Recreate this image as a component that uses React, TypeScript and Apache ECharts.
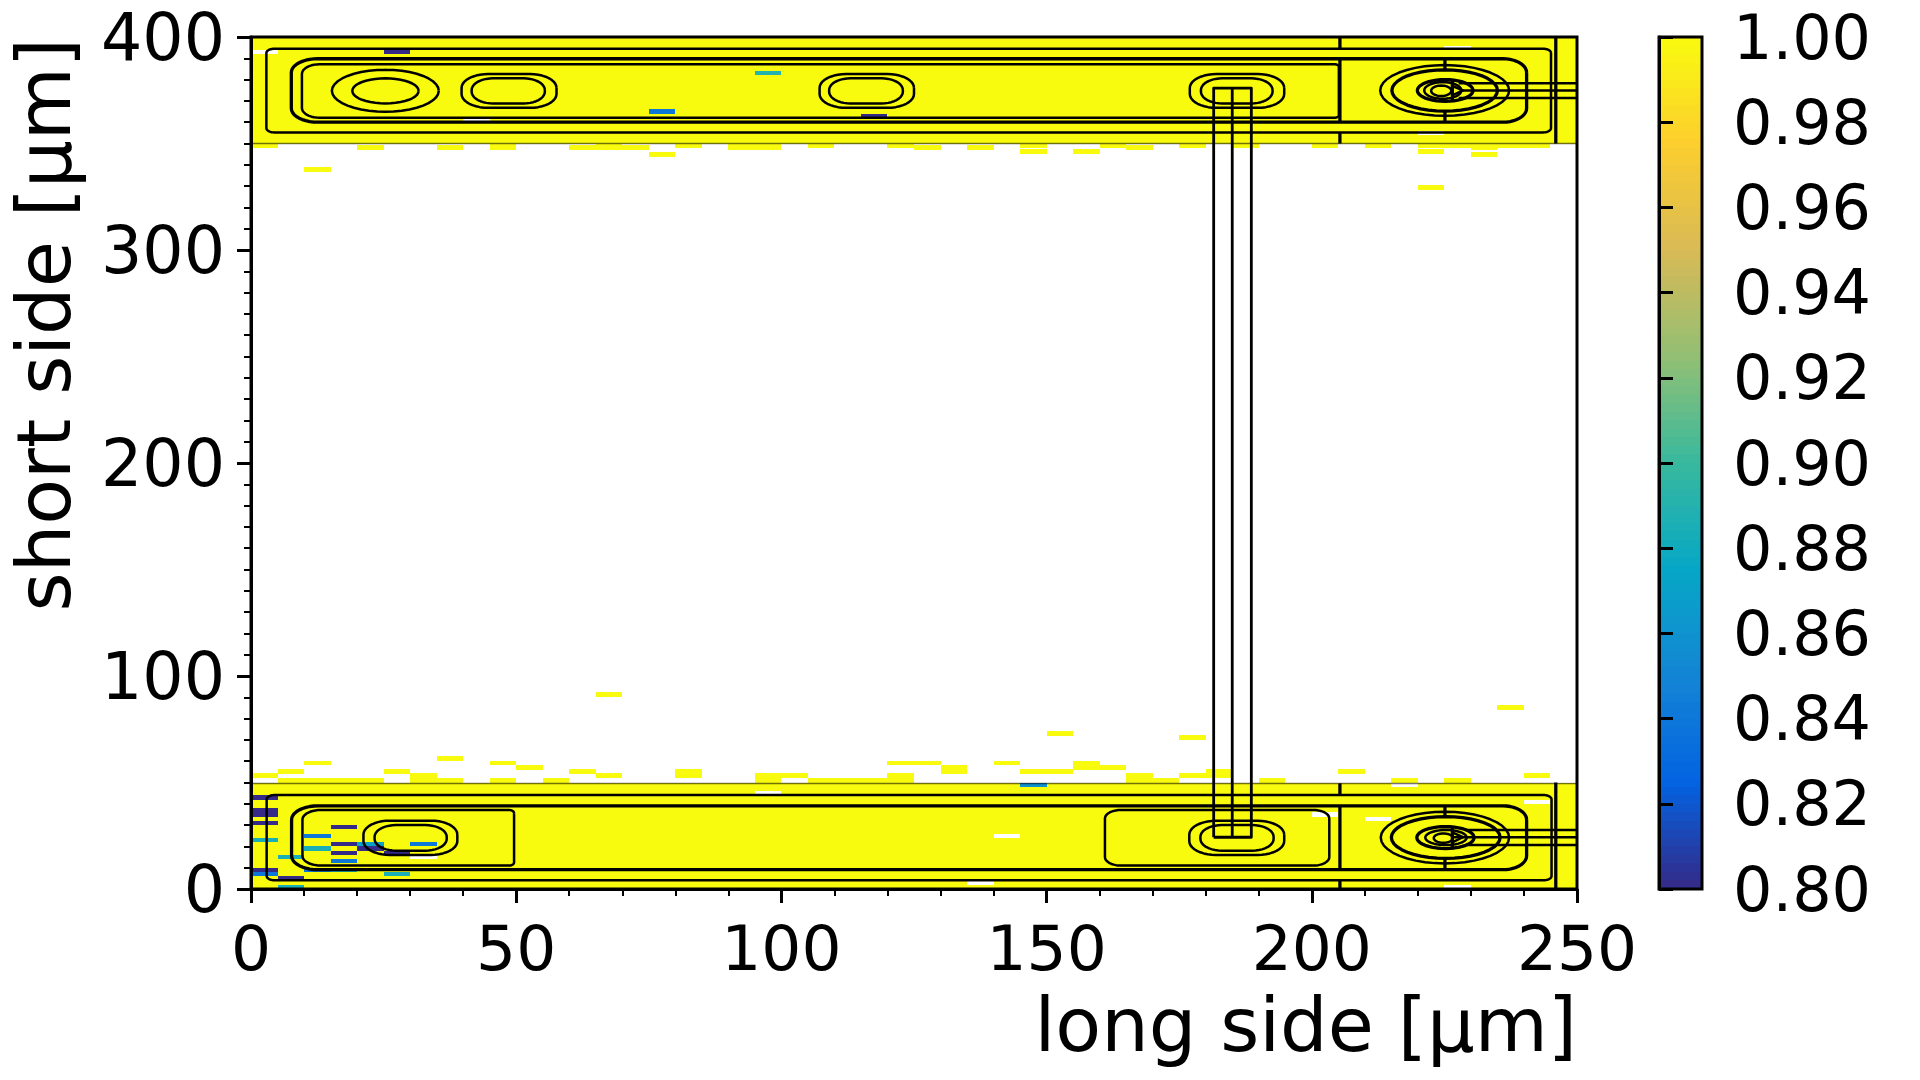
import React, { useEffect, useRef } from "react";
import * as echarts from "echarts";

const FONT = "DejaVu Sans";
const X_TICK_STEP = 50;
const Y_TICK_STEP = 100;
const xTitle = "long side [µm]";
const yTitle = "short side [µm]";

// Colour scale (0.80 → 1.00)
const parulaStops = ["#352a87", "#0363e1", "#1485d4", "#06a7c6", "#38b99e", "#92bf73", "#d9ba56", "#fcce2e", "#f9fb0e"];
const colorMin = 0.8;
const colorMax = 1.0;
const colorbarLevels = Array.from({ length: 100 }, (_, i) => i);

// Full-valued regions of the map: columns and rows of the 5 µm x 2 µm cells
const columns = [0, 5, 10, 15, 20, 25, 30, 35, 40, 45, 50, 55, 60, 65, 70, 75, 80, 85, 90, 95, 100, 105, 110, 115, 120, 125, 130, 135, 140, 145, 150, 155, 160, 165, 170, 175, 180, 185, 190, 195, 200, 205, 210, 215, 220, 225, 230, 235, 240, 245];
const lowerRows = [0, 2, 4, 6, 8, 10, 12, 14, 16, 18, 20, 22, 24, 26, 28, 30, 32, 34, 36, 38, 40, 42, 44, 46, 48];
const upperRows = [350, 352, 354, 356, 358, 360, 362, 364, 366, 368, 370, 372, 374, 376, 378, 380, 382, 384, 386, 388, 390, 392, 394, 396, 398];
const bandValue = 1.0;

// Cells with no value inside the bands [x, y]
const holes = [
  [30, 14], [95, 44], [140, 24], [135, 2], [200, 34], [210, 32], [215, 48], [240, 40], [225, 0],
  [0, 392], [40, 360], [225, 394], [220, 354],
];

// Cells below 1 inside the bands [x, y, value]
const lowCells = [
  [0, 42, 0.8], [0, 36, 0.8], [0, 34, 0.8], [0, 30, 0.8], [0, 22, 0.885], [0, 8, 0.8], [0, 6, 0.84],
  [5, 14, 0.885], [5, 4, 0.8], [5, 0, 0.885],
  [10, 24, 0.84], [10, 18, 0.885], [10, 8, 0.84],
  [15, 28, 0.8], [15, 20, 0.8], [15, 16, 0.8], [15, 12, 0.84], [15, 8, 0.885],
  [20, 20, 0.87], [20, 18, 0.8], [25, 16, 0.8], [25, 6, 0.885], [30, 20, 0.84],
  [145, 48, 0.86],
  [25, 392, 0.8], [95, 382, 0.89], [75, 364, 0.84], [115, 362, 0.8],
];

// Isolated cells of value 1 outside the bands [x, y]
const strayCells = [
  [0, 52], [5, 54], [5, 50], [10, 58], [10, 50], [15, 50], [20, 50], [25, 54], [30, 52], [30, 50], [35, 50], [35, 60],
  [45, 58], [45, 50], [50, 56], [55, 50], [60, 54], [65, 52], [65, 90], [80, 52], [80, 54], [95, 50], [95, 52], [100, 52],
  [105, 50], [110, 50], [115, 50], [120, 50], [120, 52], [120, 58], [125, 58], [130, 54], [130, 56], [140, 58], [145, 54],
  [150, 54], [150, 72], [155, 56], [155, 58], [160, 56], [165, 50], [165, 52], [170, 50], [175, 52], [175, 70], [180, 52],
  [180, 54], [190, 50], [205, 54], [215, 50], [225, 50], [235, 84], [240, 52],
  [0, 348], [20, 347], [35, 347], [45, 347], [45, 348], [60, 347], [65, 347], [65, 348], [70, 347], [75, 343.5], [80, 348],
  [90, 347], [90, 348], [95, 347], [95, 348], [105, 348], [10, 336.5], [120, 348], [125, 347], [135, 347], [145, 348], [145, 345],
  [155, 345], [160, 348], [165, 347], [175, 348], [185, 348], [200, 348], [210, 348], [220, 348], [225, 348], [230, 347],
  [230, 348], [235, 348], [240, 348], [220, 345], [230, 343.5], [220, 328],
];

// Closed contours: [x0, y0, x1, y1, cornerXLeft, cornerYLeft, cornerXRight, cornerYRight]
const thinContours = [
  [2.9, 355.2, 245.1, 394.5, 1.5, 2, 1.5, 2],
  [9.6, 362.1, 205.1, 387.2, 3.3, 4.6, 0.8, 1.2],
  [15.25, 364.9, 35.4, 384.6, 10.1, 9.85, 10.1, 9.85],
  [19.1, 368.8, 31.6, 380.6, 6.25, 5.9, 6.25, 5.9],
  [39.7, 366.75, 57.6, 382.6, 5, 6.5, 5, 6.5],
  [41.6, 368.8, 55.4, 380.6, 4, 5.5, 4, 5.5],
  [107.2, 366.75, 125, 382.6, 5, 6.5, 5, 6.5],
  [109, 368.8, 122.9, 380.6, 4, 5.5, 4, 5.5],
  [177, 366.75, 194.8, 382.6, 5, 6.5, 5, 6.5],
  [179.1, 368.8, 192.6, 380.6, 4, 5.5, 4, 5.5],
  [212.9, 363, 237.2, 386.8, 12.15, 11.9, 12.15, 11.9],
  [221.2, 371, 228.2, 378.8, 3.5, 3.9, 3.5, 3.9],
  [222.5, 372.3, 226.3, 377.2, 1.9, 2.45, 1.9, 2.45],
  [2.95, 4.1, 245.2, 44.1, 1.5, 2, 1.5, 2],
  [9.7, 11, 49.6, 37.1, 3.5, 4.5, 1, 1.5],
  [21.2, 16, 38.9, 32.1, 5, 6.5, 5, 6.5],
  [23.3, 18, 36.9, 30, 4, 5.5, 4, 5.5],
  [161, 11, 203.3, 37.1, 3, 4, 3, 4],
  [176.9, 16, 194.8, 32, 5, 6.5, 5, 6.5],
  [179, 18, 192.8, 30, 4, 5.5, 4, 5.5],
  [213, 12, 237.2, 36.3, 12.1, 12.15, 12.1, 12.15],
  [221.4, 20.6, 229.2, 27.7, 3.9, 3.55, 3.9, 3.55],
  [223, 21.7, 226.6, 26.1, 1.8, 2.2, 1.8, 2.2],
];
const thickContours = [
  [7.6, 360, 240.5, 389.8, 5, 6.5, 4.5, 6.5],
  [215.1, 365.2, 235, 384.6, 9.95, 9.7, 9.95, 9.7],
  [219.9, 369.8, 230.4, 380, 5.25, 5.1, 5.25, 5.1],
  [7.65, 9.05, 240.5, 39.05, 5, 6.5, 4.5, 6.5],
  [215, 14.4, 235.5, 34, 10.25, 9.8, 10.25, 9.8],
  [219.8, 19, 230.6, 29.3, 5.4, 5.15, 5.4, 5.15],
];

// Open contour lines: lists of [x, y]
const thinLines = [
  [[227.7, 378.3], [250, 378.3]], [[228.5, 374.9], [250, 374.9]], [[227.7, 371.4], [250, 371.4]],
  [[226.5, 377], [228.5, 374.9], [226.5, 372.6]],
  [[229, 27.7], [250, 27.7]], [[226.6, 24.3], [250, 24.3]], [[229, 20.6], [250, 20.6]],
  [[226.5, 26.6], [228.5, 24.3], [226.5, 21.9]],
];
const tubeLines = [
  [[181.5, 24.3], [181.5, 376], [188.6, 376], [188.6, 24.3], [181.5, 24.3]],
  [[185, 24.3], [185, 376]],
];
const thickLines = [
  [[205.3, 350], [205.3, 355.2]], [[205.3, 360], [205.3, 389.8]], [[205.3, 394.5], [205.3, 400]],
  [[246, 350], [246, 400]],
  [[225.1, 360], [225.1, 365.2]], [[225.1, 384.6], [225.1, 389.8]], [[226.5, 370], [226.5, 380]],
  [[205.3, 0], [205.3, 4.1]], [[205.3, 9.05], [205.3, 39.05]], [[205.3, 44.1], [205.3, 49.6]],
  [[246, 0], [246, 50]],
  [[225.1, 9.05], [225.1, 14.4]], [[225.1, 34], [225.1, 39.05]], [[226.5, 19.3], [226.5, 29]],
];
const edgeLines = [
  [[0, 49.5], [246, 49.5]], [[246, 49.5], [250, 49.5]],
  [[0, 350], [250, 350]],
];

function parula(value: number) {
  const t = Math.min(1, Math.max(0, (value - colorMin) / (colorMax - colorMin))) * (parulaStops.length - 1);
  const i = Math.min(parulaStops.length - 2, Math.floor(t));
  const f = t - i;
  const a = parseInt(parulaStops[i].slice(1), 16);
  const b = parseInt(parulaStops[i + 1].slice(1), 16);
  const ch = (s: number) => Math.round(((a >> s) & 255) * (1 - f) + ((b >> s) & 255) * f);
  return `rgb(${ch(16)},${ch(8)},${ch(0)})`;
}

const holeSet = new Set(holes.map((h) => h.join(",")));
const lowSet = new Set(lowCells.map((c) => c[0] + "," + c[1]));
const bandCells: number[][] = [];
for (const y of [...lowerRows, ...upperRows]) {
  for (const x of columns) {
    const key = x + "," + y;
    if (!holeSet.has(key) && !lowSet.has(key)) bandCells.push([x, y, bandValue]);
  }
}

function cellSeries(cells: number[][], cellHeight: number, z: number) {
  return {
    type: "custom",
    xAxisIndex: 0,
    yAxisIndex: 0,
    z,
    silent: true,
    data: cells,
    encode: { x: 0, y: 1 },
    renderItem: (_: any, api: any) => {
      const x = api.value(0);
      const y = api.value(1);
      const a = api.coord([x, y + cellHeight]);
      const b = api.coord([x + 5, y]);
      const left = Math.round(a[0]);
      const top = Math.round(a[1]);
      return {
        type: "rect",
        shape: { x: left, y: top, width: Math.round(b[0]) - left, height: Math.round(b[1]) - top },
        style: { fill: parula(api.value(2)), stroke: null },
      };
    },
  };
}

function outline(c: number[]) {
  const [x0, y0, x1, y1, rl, sl, rr, sr] = c;
  const pts: number[][] = [];
  const corner = (cx: number, cy: number, rx: number, ry: number, from: number) => {
    for (let k = 0; k <= 10; k++) {
      const ang = from + (k / 10) * (Math.PI / 2);
      pts.push([cx + rx * Math.cos(ang), cy + ry * Math.sin(ang)]);
    }
  };
  corner(x1 - rr, y1 - sr, rr, sr, 0);
  corner(x0 + rl, y1 - sl, rl, sl, Math.PI / 2);
  corner(x0 + rl, y0 + sl, rl, sl, Math.PI);
  corner(x1 - rr, y0 + sr, rr, sr, (3 * Math.PI) / 2);
  pts.push(pts[0]);
  return pts;
}

function lineSeries(paths: number[][][], width: number, color: string, opacity = 1) {
  return {
    type: "custom",
    xAxisIndex: 0,
    yAxisIndex: 0,
    z: 4,
    silent: true,
    data: paths.map((p) => p[0]),
    encode: { x: 0, y: 1 },
    renderItem: (params: any, api: any) => ({
      type: "polyline",
      shape: { points: paths[params.dataIndex].map((p) => api.coord(p)) },
      style: { fill: null, stroke: color, lineWidth: width, opacity, lineJoin: "round" },
    }),
  };
}

function colorbarSeries() {
  return {
    type: "custom",
    xAxisIndex: 1,
    yAxisIndex: 1,
    z: 2,
    silent: true,
    data: colorbarLevels.map((i) => [0, colorMin + (i * (colorMax - colorMin)) / colorbarLevels.length]),
    encode: { x: 0, y: 1 },
    renderItem: (_: any, api: any) => {
      const v = api.value(1);
      const step = (colorMax - colorMin) / colorbarLevels.length;
      const a = api.coord([0, v + step]);
      const b = api.coord([1, v]);
      const top = Math.round(a[1]);
      return {
        type: "rect",
        shape: { x: a[0], y: top, width: b[0] - a[0], height: Math.round(b[1]) - top },
        style: { fill: parula(v + step / 2), stroke: null },
      };
    },
  };
}

const tickLabel = { color: "#000", fontFamily: FONT, fontSize: 63 };
const axisLine = { show: true, lineStyle: { color: "#000", width: 3 } };
const axisTick = { show: true, length: 14, lineStyle: { color: "#000", width: 3 } };

export default function App() {
  const ref = useRef<HTMLDivElement>(null);
  useEffect(() => {
    const chart = echarts.init(ref.current!, undefined, { renderer: "svg" });
    chart.setOption({
      animation: false,
      backgroundColor: "#fff",
      grid: [
        { left: 251, right: 343, top: 37, bottom: 191, outerBoundsMode: "none", show: true, borderColor: "#000", borderWidth: 3, backgroundColor: "transparent", z: 10 },
        { left: 1659, right: 218, top: 37, bottom: 191, outerBoundsMode: "none", show: true, borderColor: "#000", borderWidth: 3, backgroundColor: "transparent", z: 10 },
      ],
      xAxis: [
        {
          type: "value", gridIndex: 0, min: 0, max: 250, interval: X_TICK_STEP, z: 11,
          name: xTitle, nameLocation: "end", nameGap: 0,
          nameTextStyle: { color: "#000", fontFamily: FONT, fontSize: 75, align: "right", verticalAlign: "top", padding: [98, 0, 0, 0] },
          axisLine, axisTick,
          minorTick: { show: true, splitNumber: 5, length: 7, lineStyle: { color: "#000", width: 2 } },
          axisLabel: { ...tickLabel, margin: 28, showMinLabel: true, showMaxLabel: true },
          splitLine: { show: false }, minorSplitLine: { show: false },
        },
        { type: "value", gridIndex: 1, min: 0, max: 1, show: false, splitLine: { show: false } },
      ],
      yAxis: [
        {
          type: "value", gridIndex: 0, min: 0, max: 400, interval: Y_TICK_STEP, z: 11,
          name: yTitle, nameLocation: "end", nameRotate: 90, nameGap: -1,
          nameTextStyle: { color: "#000", fontFamily: FONT, fontSize: 75, align: "right", verticalAlign: "bottom", padding: [0, 0, 170, 0] },
          axisLine, axisTick,
          minorTick: { show: true, splitNumber: 10, length: 7, lineStyle: { color: "#000", width: 2 } },
          axisLabel: { ...tickLabel, fontSize: 65, margin: 26, showMinLabel: true, showMaxLabel: true },
          splitLine: { show: false }, minorSplitLine: { show: false },
        },
        {
          type: "value", gridIndex: 1, position: "right", min: colorMin, max: colorMax, interval: 0.02, z: 11,
          axisLine, axisTick,
          axisLabel: { ...tickLabel, fontSize: 62, margin: 31, formatter: (v: number) => v.toFixed(2), showMinLabel: true, showMaxLabel: true },
          splitLine: { show: false },
        },
      ],
      series: [
        cellSeries(bandCells, 2, 2),
        cellSeries(strayCells.map((c) => [c[0], c[1], bandValue]), 2.3, 2),
        cellSeries(lowCells, 2, 3),
        lineSeries(edgeLines, 1.4, "#000", 0.55),
        lineSeries(thinContours.map(outline), 2.5, "#000"),
        lineSeries(thinLines, 2.5, "#000"),
        lineSeries(tubeLines, 2.8, "#000"),
        lineSeries(thickContours.map(outline), 3.3, "#000"),
        lineSeries(thickLines, 3.3, "#000"),
        colorbarSeries(),
      ],
    });
    return () => chart.dispose();
  }, []);
  return <div ref={ref} style={{ position: "fixed", left: 0, top: 0, width: 1920, height: 1080, background: "#fff" }} />;
}
